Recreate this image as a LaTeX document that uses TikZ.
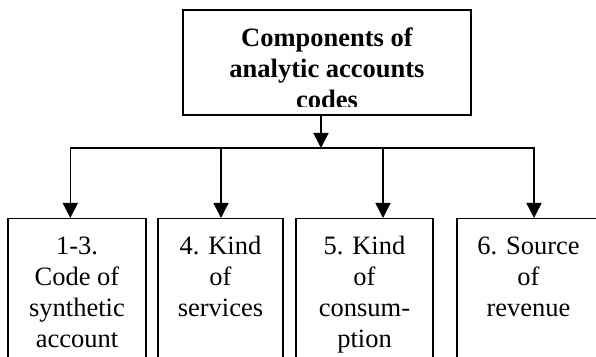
\documentclass[tikz,border=0pt]{standalone}
\usepackage{fontspec}
\setmainfont{Liberation Serif}
\usetikzlibrary{arrows.meta}
\tikzstyle{codebox}=[draw, line width=1.5pt, anchor=north, inner xsep=2pt, inner ysep=14.5pt]
\tikzstyle{down>}=[line width=1.5pt, -{Triangle[width=15pt,length=15pt]}]
\newcommand{\codefont}{\fontsize{26.5}{31}\selectfont}
\newcommand{\boxtext}[2]{\parbox[t][170pt][t]{#1}{\centering\codefont\strut #2}}
\begin{document}
\begin{tikzpicture}[x=1pt,y=1pt]
\useasboundingbox (0,0) rectangle (596,356);
\clip (0,0) rectangle (596,356);
\node[draw, line width=1.5pt, minimum width=288pt, minimum height=105pt, inner sep=0pt] (head) at (327,293.5) {};
\begin{scope}
\clip (head.north west) rectangle ([yshift=9pt]head.south east);
\node[anchor=base, inner sep=0pt] (headtext) at (327,309.3) {\parbox[t]{280pt}{\centering\codefont\bfseries Components of\\analytic accounts\\codes}};
\end{scope}
\coordinate (hub) at (321,208);
\draw[down>] (head.south -| hub) -- (hub);
\foreach \n/\ax/\cx/\w/\txt in {1/70.3/77/138/{1-3.\\Code of\\synthetic\\account}, 2/221/220.5/125/{4. Kind\\of\\services}, 3/383/364.5/137/{5. Kind\\of\\consum-\\ption}, 4/534/528.5/143/{6. Source\\of\\revenue}} {
	\node[codebox, minimum width=\w pt] (part\n) at (\cx,138) {\boxtext{\dimexpr\w pt-4pt\relax}{\txt}};
	\coordinate (drop\n) at (\ax,208);
	\draw[down>] (drop\n) -- (drop\n |- part\n.north);
}
\draw[line width=1.5pt, line cap=rect] (drop1) -- (drop4);
\end{tikzpicture}
\end{document}
